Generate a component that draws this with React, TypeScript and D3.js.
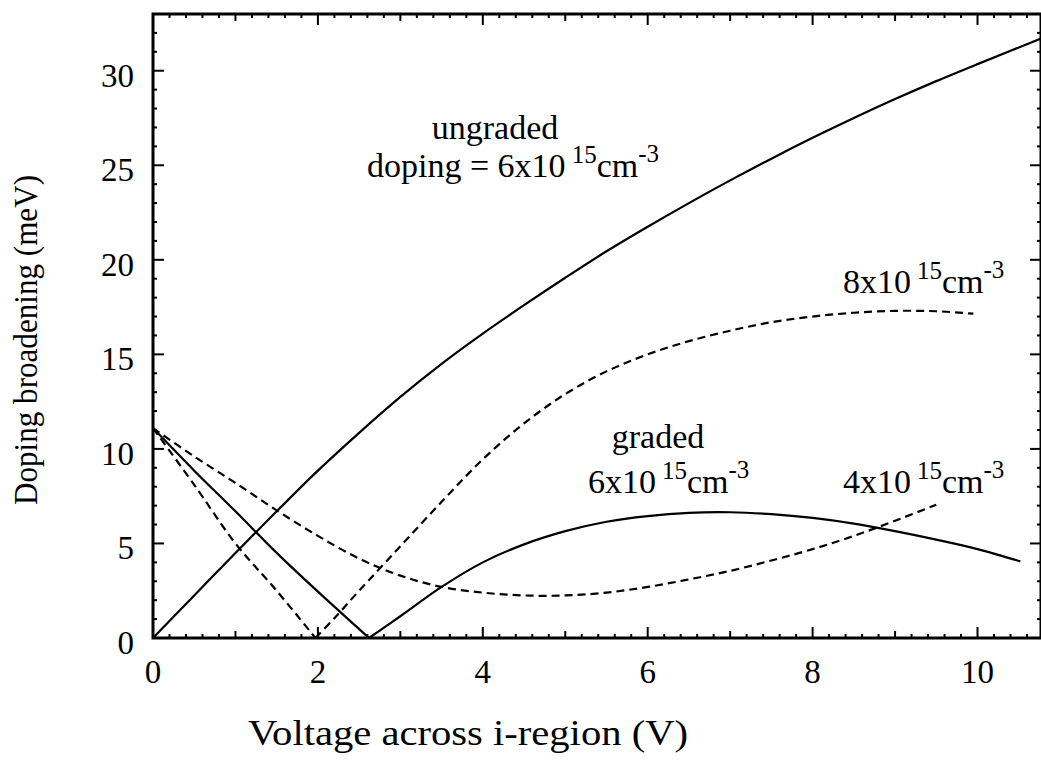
import React from "react";
import * as d3 from "d3";

// Doping broadening (meV) versus voltage across the i-region (V)
type Pt = [number, number];

// Ungraded profile, doping = 6x10^15 cm^-3 (solid)
const ungraded6: Pt[] = [
  [0, 0], [0.5, 2.25], [1.0, 4.5], [1.5, 6.7], [2.0, 8.85], [2.5, 10.85],
  [3.0, 12.75], [3.5, 14.5], [4.0, 16.1], [4.5, 17.6], [5.0, 19.05],
  [5.5, 20.45], [6.0, 21.75], [6.5, 23.0], [7.0, 24.2], [7.5, 25.35],
  [8.0, 26.45], [8.5, 27.5], [9.0, 28.5], [9.5, 29.45], [10.0, 30.35], [10.77, 31.7],
];

// 8x10^15 cm^-3 (dashed): falling branch and rising branch
const doped8Fall: Pt[] = [[0, 11.1], [0.5, 8.1], [1.0, 5.0], [1.5, 2.5], [1.97, 0]];
const doped8Rise: Pt[] = [
  [1.97, 0], [2.2, 1.05], [2.5, 2.5], [3.0, 4.85], [3.5, 7.2], [4.0, 9.45],
  [4.5, 11.35], [5.0, 12.9], [5.5, 14.1], [6.0, 15.0], [6.5, 15.7],
  [7.0, 16.25], [7.5, 16.7], [8.0, 17.0], [8.5, 17.2], [9.0, 17.3],
  [9.5, 17.28], [9.95, 17.15],
];

// Graded profile, 6x10^15 cm^-3 (solid): falling branch and hump
const graded6Fall: Pt[] = [[0, 11.1], [0.5, 8.85], [1.0, 6.7], [1.5, 4.5], [2.0, 2.45], [2.62, 0]];
const graded6Rise: Pt[] = [
  [2.62, 0], [3.0, 1.15], [3.5, 2.7], [4.0, 4.0], [4.5, 4.95], [5.0, 5.65],
  [5.5, 6.15], [6.0, 6.45], [6.5, 6.62], [7.0, 6.65], [7.5, 6.55],
  [8.0, 6.35], [8.5, 6.05], [9.0, 5.65], [9.5, 5.2], [10.0, 4.7], [10.52, 4.05],
];

// 4x10^15 cm^-3 (dashed)
const doped4: Pt[] = [
  [0, 11.1], [0.5, 9.6], [1.0, 8.2], [1.5, 6.75], [2.0, 5.4], [2.5, 4.2],
  [3.0, 3.3], [3.5, 2.7], [4.0, 2.4], [4.5, 2.25], [5.0, 2.25], [5.5, 2.4],
  [6.0, 2.7], [6.5, 3.1], [7.0, 3.55], [7.5, 4.1], [8.0, 4.7], [8.5, 5.4],
  [9.0, 6.2], [9.5, 7.05],
];

const xTickLabels = [0, 2, 4, 6, 8, 10];
const yTickLabels = [0, 5, 10, 15, 20, 25, 30];

const W = 1041;
const H = 761;
const left = 153;
const right = 1041;
const top = 14;
const bottom = 638;
const FONT = "'Liberation Serif', 'Times New Roman', serif";

const x = d3.scaleLinear().domain([0, 10.77]).range([left, right]);
const y = d3.scaleLinear().domain([0, 33]).range([bottom, top]);

const line = d3
  .line<Pt>()
  .x((d) => x(d[0]))
  .y((d) => y(d[1]))
  .curve(d3.curveCatmullRom.alpha(0.5));

const DASH = "8 5";

function Conc({ px, py, mant }: { px: number; py: number; mant: string }) {
  return (
    <text x={px} y={py} fontFamily={FONT} fontSize={34} fill="#000">
      {mant}
      <tspan dx={6} dy={-14} fontSize={25}>15</tspan>
      <tspan dy={14}>cm</tspan>
      <tspan dy={-15} fontSize={25}>-3</tspan>
    </text>
  );
}

export default function App() {
  const xMinor = d3.range(0, 10.77 + 1e-9, 0.2).filter((v) => Math.abs(v - Math.round(v)) > 1e-6);
  const xMid = d3.range(1, 11, 2);
  const yMinor = d3.range(0, 34, 1).filter((v) => v % 5 !== 0);

  const major = 11;
  const mid = 7;
  const minor = 4;

  const tick = (key: string, x1: number, y1: number, x2: number, y2: number, w = 2) => (
    <line key={key} x1={x1} y1={y1} x2={x2} y2={y2} stroke="#000" strokeWidth={w} />
  );

  return (
    <svg
      width={W}
      height={H}
      style={{ position: "absolute", left: 0, top: 0, background: "#fff" }}
    >
      <rect x={0} y={0} width={W} height={H} fill="#fff" />

      {/* frame */}
      <rect x={left} y={top} width={right - left} height={bottom - top} fill="none" stroke="#000" strokeWidth={3} />

      {/* x ticks on bottom and top */}
      {xTickLabels.map((v) => (
        <g key={"xm" + v}>
          {tick("b", x(v), bottom, x(v), bottom - major)}
          {tick("t", x(v), top, x(v), top + major)}
        </g>
      ))}
      {xMid.map((v) => (
        <g key={"xd" + v}>
          {tick("b", x(v), bottom, x(v), bottom - mid)}
          {tick("t", x(v), top, x(v), top + mid)}
        </g>
      ))}
      {xMinor.map((v, i) => (
        <g key={"xn" + i}>
          {tick("b", x(v), bottom, x(v), bottom - minor)}
          {tick("t", x(v), top, x(v), top + minor)}
        </g>
      ))}

      {/* y ticks on left and right */}
      {yTickLabels.map((v) => (
        <g key={"ym" + v}>
          {tick("l", left, y(v), left + major, y(v))}
          {tick("r", right, y(v), right - major, y(v))}
        </g>
      ))}
      {yMinor.map((v) => (
        <g key={"yn" + v}>
          {tick("l", left, y(v), left + minor, y(v))}
          {tick("r", right, y(v), right - minor, y(v))}
        </g>
      ))}

      {/* tick labels */}
      {xTickLabels.map((v) => (
        <text key={"xl" + v} x={x(v)} y={683} textAnchor="middle" fontFamily={FONT} fontSize={33} fill="#000">
          {v}
        </text>
      ))}
      {yTickLabels.map((v) => (
        <text key={"yl" + v} x={134} y={y(v) + 16} textAnchor="end" fontFamily={FONT} fontSize={33} fill="#000">
          {v}
        </text>
      ))}

      {/* axis titles */}
      <text x={468} y={745} textAnchor="middle" fontFamily={FONT} fontSize={35} fill="#000"
        textLength={440} lengthAdjust="spacingAndGlyphs">
        Voltage across i-region (V)
      </text>
      <text transform="translate(37,340) rotate(-90)" textAnchor="middle" fontFamily={FONT} fontSize={34} fill="#000"
        textLength={330} lengthAdjust="spacingAndGlyphs">
        Doping broadening (meV)
      </text>

      {/* curves */}
      <g fill="none" stroke="#000" strokeWidth={2.2}>
        <path d={line(ungraded6) || ""} />
        <path d={line(graded6Fall) || ""} />
        <path d={line(graded6Rise) || ""} />
        <path d={line(doped8Fall) || ""} strokeDasharray={DASH} />
        <path d={line(doped8Rise) || ""} strokeDasharray={DASH} />
        <path d={line(doped4) || ""} strokeDasharray={DASH} />
      </g>

      {/* annotations */}
      <text x={495} y={139} textAnchor="middle" fontFamily={FONT} fontSize={34} fill="#000">ungraded</text>
      <Conc px={367} py={177} mant="doping = 6x10" />
      <Conc px={843} py={293} mant="8x10" />
      <text x={658} y={448} textAnchor="middle" fontFamily={FONT} fontSize={34} fill="#000">graded</text>
      <Conc px={588} py={493} mant="6x10" />
      <Conc px={843} py={493} mant="4x10" />
    </svg>
  );
}
